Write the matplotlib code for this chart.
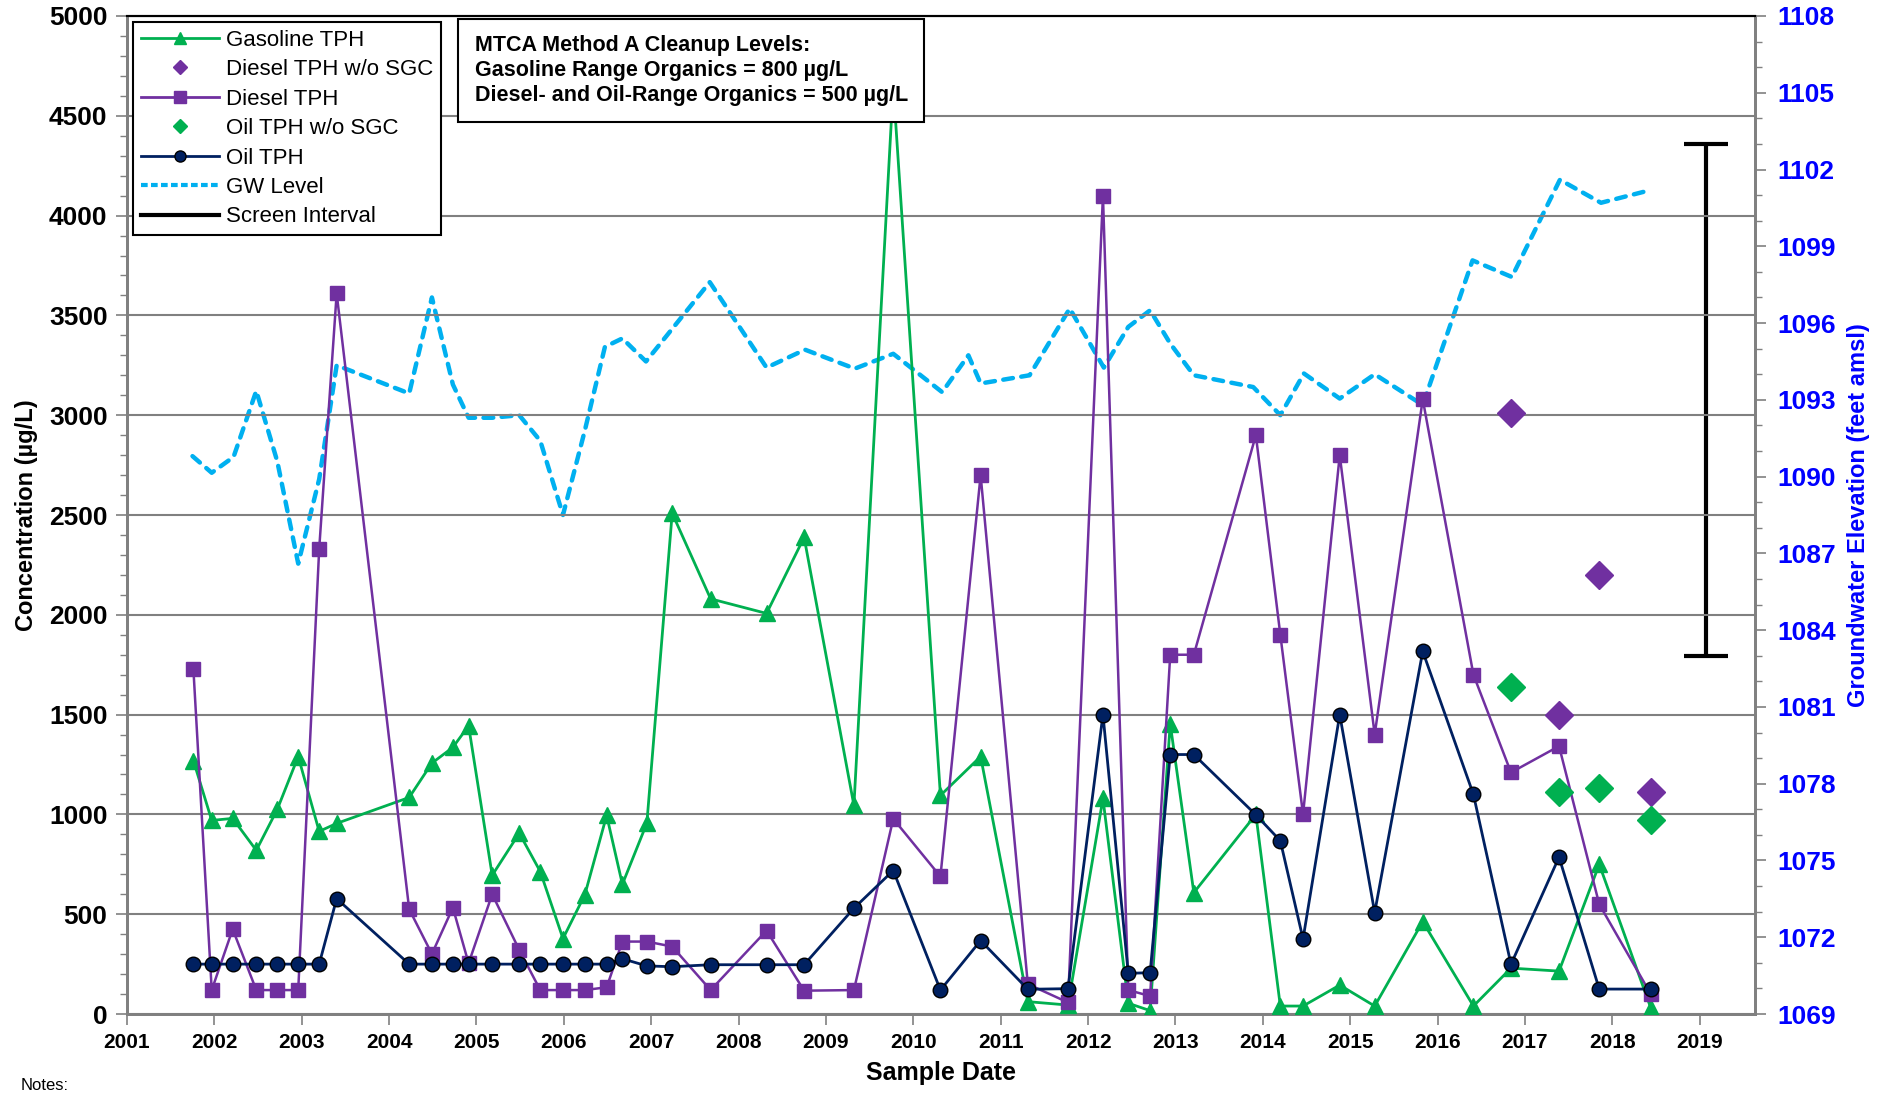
import numpy as np
import matplotlib
matplotlib.use("Agg")
import matplotlib.pyplot as plt
from matplotlib.lines import Line2D
from matplotlib.ticker import MultipleLocator

# sample dates (decimal year) shared by gasoline / diesel / oil
dates = [2001.76, 2001.97, 2002.21, 2002.48, 2002.72, 2002.96, 2003.20, 2003.40, 2004.23, 2004.49,
         2004.73, 2004.91, 2005.18, 2005.49, 2005.73, 2005.99, 2006.24, 2006.49, 2006.67, 2006.95,
         2007.24, 2007.68, 2008.32, 2008.75, 2009.32, 2009.77, 2010.31, 2010.77, 2011.31, 2011.77,
         2012.17, 2012.46, 2012.71, 2012.94, 2013.21, 2013.92, 2014.20, 2014.46, 2014.88, 2015.28,
         2015.83, 2016.41, 2016.84, 2017.39, 2017.85, 2018.44]

gasoline = [1270, 970, 980, 820, 1025, 1290, 915, 955, 1085, 1257,
            1336, 1444, 695, 906, 714, 378, 597, 995, 650, 956,
            2509, 2080, 2007, 2388, 1045, 4650, 1095, 1290, 62, 45,
            1080, 54, 17, 1454, 608, 1000, 40, 40, 145, 40,
            463, 40, 230, 215, 750, 30]

diesel = [1730, 120, 425, 120, 120, 120, 2330, 3610, 525, 301,
          533, 254, 600, 321, 120, 120, 120, 134, 363, 363,
          338, 120, 418, 117, 120, 978, 689, 2700, 150, 58,
          4100, 120, 90, 1800, 1800, 2900, 1900, 1000, 2800, 1400,
          3080, 1700, 1210, 1342, 550, 100]

oil = [250, 250, 250, 250, 250, 250, 250, 578, 250, 250,
       250, 250, 250, 250, 250, 250, 250, 250, 277, 241,
       237, 247, 247, 247, 530, 719, 120, 368, 124, 127,
       1500, 204, 207, 1300, 1300, 998, 868, 376, 1500, 508,
       1817, 1100, 249, 786, 125, 125]

# results without silica gel cleanup
sgc_dates = [2016.84, 2017.39, 2017.85, 2018.44]
diesel_no_sgc = [3010, 1500, 2200, 1110]
oil_no_sgc = [1640, 1110, 1130, 970]

# groundwater elevation (feet amsl)
gw_dates = [2001.75, 2001.97, 2002.22, 2002.48, 2002.72, 2002.96, 2003.20, 2003.40, 2004.23, 2004.49,
            2004.73, 2004.91, 2005.18, 2005.49, 2005.73, 2005.99, 2006.24, 2006.47, 2006.67, 2006.94,
            2007.67, 2008.32, 2008.76, 2009.33, 2009.77, 2010.33, 2010.63, 2010.77, 2011.33, 2011.79,
            2012.18, 2012.46, 2012.71, 2012.94, 2013.21, 2013.89, 2014.20, 2014.47, 2014.88, 2015.28,
            2015.83, 2016.40, 2016.85, 2017.40, 2017.87, 2018.44]
gw_level = [1090.8, 1090.15, 1090.77, 1093.35, 1090.6, 1086.6, 1089.9, 1094.35, 1093.25, 1097.0,
            1093.6, 1092.3, 1092.3, 1092.4, 1091.4, 1088.5, 1091.8, 1095.07, 1095.4, 1094.5,
            1097.6, 1094.26, 1094.96, 1094.22, 1094.8, 1093.3, 1094.74, 1093.64, 1093.96, 1096.57,
            1094.26, 1095.85, 1096.5, 1095.2, 1093.96, 1093.5, 1092.4, 1094.03, 1093.05, 1094.0,
            1092.8, 1098.45, 1097.8, 1101.6, 1100.7, 1101.2]

# well screen interval
screen_x = 2019.07
screen_top = 1103
screen_bottom = 1083

years = list(range(2001, 2020))
elev_ticks = list(range(1069, 1109, 3))

GREEN = "#00B050"
PURPLE = "#7030A0"
NAVY = "#002060"
SKY = "#00B0F0"
BLUE = "#0000FF"
GRID = "#808080"

plt.rcParams["font.family"] = ["Liberation Sans", "DejaVu Sans"]

fig = plt.figure(figsize=(18.95, 10.94), dpi=100)
ax = fig.add_axes([0.067, 0.0731, 0.859, 0.9123])
ax2 = ax.twinx()
ax.set_zorder(ax2.get_zorder() + 1)
ax.patch.set_visible(False)

# groundwater on secondary axis (behind)
ax2.plot(gw_dates, gw_level, color=SKY, lw=3.2, dashes=(2.2, 1.9), dash_capstyle="round")
ax2.errorbar([screen_x], [(screen_top + screen_bottom) / 2], yerr=[(screen_top - screen_bottom) / 2],
             fmt="none", ecolor="black", elinewidth=3, capsize=16, capthick=3)

ax.plot(dates, gasoline, color=GREEN, lw=2, marker="^", ms=11, mec=GREEN, zorder=3)
ax.plot(dates, diesel, color=PURPLE, lw=1.8, marker="s", ms=9.5, mec=PURPLE, zorder=4)
ax.plot(dates, oil, color=NAVY, lw=2, marker="o", ms=10.5, mec="black", mew=1, zorder=5)
ax.plot(sgc_dates, diesel_no_sgc, ls="none", marker="D", ms=14, color=PURPLE, zorder=4)
ax.plot(sgc_dates, oil_no_sgc, ls="none", marker="D", ms=14, color=GREEN, zorder=4)

ax.set_xlim(2001, 2019.63)
ax.set_ylim(0, 5000)
ax2.set_ylim(1069, 1108)
ax.set_xticks(years)
ax.set_xticklabels([str(y) for y in years])
ax.yaxis.set_major_locator(MultipleLocator(500))
ax.yaxis.set_minor_locator(MultipleLocator(100))
ax2.set_yticks(elev_ticks)
ax2.yaxis.set_minor_locator(MultipleLocator(1))

ax.grid(axis="y", color=GRID, lw=1.5, zorder=0)
ax.set_axisbelow(True)

ax.tick_params(axis="y", which="major", labelsize=19, length=8, width=1.2, color=GRID, pad=6)
ax.tick_params(axis="y", which="minor", length=5, width=1, color=GRID)
ax.tick_params(axis="x", labelsize=15, length=8, width=1.2, color=GRID, pad=6)
ax2.tick_params(axis="y", which="major", labelsize=19, labelcolor=BLUE, length=8, width=1.2, color=GRID, pad=8)
ax2.tick_params(axis="y", which="minor", length=5, width=1, color=GRID)
for lab in ax.get_yticklabels() + ax.get_xticklabels() + ax2.get_yticklabels():
    lab.set_fontweight("bold")

for a in (ax, ax2):
    for side in ("left", "bottom", "right"):
        a.spines[side].set_color(GRID)
        a.spines[side].set_linewidth(2)
    a.spines["top"].set_color("black")
    a.spines["top"].set_linewidth(1.5)

ax.set_xlabel("Sample Date", fontsize=18, fontweight="bold", labelpad=6)
ax.set_ylabel("Concentration (µg/L)", fontsize=17, fontweight="bold", labelpad=8)
ax2.set_ylabel("Groundwater Elevation (feet amsl)", fontsize=17, fontweight="bold", color=BLUE, labelpad=8)

handles = [
    Line2D([], [], color=GREEN, lw=2, marker="^", ms=8, mec=GREEN),
    Line2D([], [], ls="none", color=PURPLE, marker="D", ms=7),
    Line2D([], [], color=PURPLE, lw=2, marker="s", ms=8, mec=PURPLE),
    Line2D([], [], ls="none", color=GREEN, marker="D", ms=7),
    Line2D([], [], color=NAVY, lw=2, marker="o", ms=8, mec="black"),
    Line2D([], [], color=SKY, lw=3, dashes=(1.6, 0.8)),
    Line2D([], [], color="black", lw=3),
]
labels = ["Gasoline TPH", "Diesel TPH w/o SGC", "Diesel TPH", "Oil TPH w/o SGC",
          "Oil TPH", "GW Level", "Screen Interval"]
leg = ax.legend(handles, labels, loc="upper left", bbox_to_anchor=(0.004, 0.994), borderaxespad=0,
                fontsize=16, frameon=True, fancybox=False, edgecolor="black", framealpha=1,
                handlelength=3.5, labelspacing=0.38, handletextpad=0.3, borderpad=0.35)
leg.get_frame().set_linewidth(1.5)
leg.set_zorder(10)

ax.text(0.2135, 0.981,
        "MTCA Method A Cleanup Levels:\nGasoline Range Organics = 800 µg/L\n"
        "Diesel- and Oil-Range Organics = 500 µg/L",
        transform=ax.transAxes, ha="left", va="top", fontsize=15.5, fontweight="bold",
        linespacing=1.25, zorder=11,
        bbox=dict(boxstyle="square,pad=0.75", fc="white", ec="black", lw=1.5))

fig.text(0.011, 0.001, "Notes:", fontsize=12, va="bottom", ha="left")

fig.savefig("out.png", dpi=100)
